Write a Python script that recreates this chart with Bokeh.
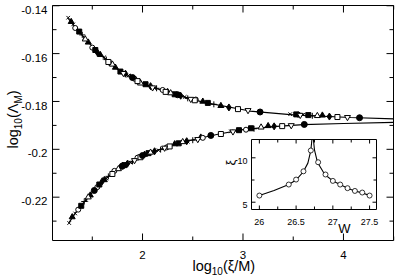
import math
from bokeh.plotting import figure
from bokeh.models import Range1d
from bokeh.core.properties import value
from bokeh.embed import file_html
from bokeh.resources import INLINE

FONT = "Liberation Sans"

# ---------------- main panel data ----------------
X_RANGE = (1.104, 4.498)
Y_RANGE = (-0.2381, -0.1399)
X_TICKS = [2, 3, 4]
X_TICK_LABELS = ["2", "3", "4"]
X_MINOR = [1.5, 2.5, 3.5, 4.5]
Y_TICKS = [-0.22, -0.2, -0.18, -0.16, -0.14]
Y_TICK_LABELS = ["-0.22", "-0.2", "-0.18", "-0.16", "-0.14"]
Y_MINOR = [-0.23, -0.21, -0.19, -0.17, -0.15]

# fitted scaling curves (upper and lower branch)
UPPER_X = [1.26, 1.35, 1.45, 1.58, 1.75, 2.0, 2.25, 2.6, 3.07, 3.5, 4.07, 4.5]
UPPER_Y = [-0.1453, -0.1500, -0.1548, -0.1605, -0.1665, -0.1725, -0.1762, -0.1803, -0.1840, -0.1856, -0.1867, -0.1873]
LOWER_X = [1.27, 1.35, 1.45, 1.58, 1.75, 2.0, 2.25, 2.5, 2.75, 3.0, 3.3, 3.6, 4.0, 4.5]
LOWER_Y = [-0.2305, -0.2255, -0.2205, -0.2140, -0.2085, -0.2028, -0.1988, -0.1960, -0.1937, -0.1918, -0.1905, -0.1897, -0.1892, -0.1887]

# data points, one list per symbol (upper branch points followed by lower branch points)
CROSS_X = [1.26, 1.31, 1.42, 1.62, 1.86, 2.12, 2.42, 3.47, 3.60, 1.27, 1.33, 1.44, 1.64, 1.88, 2.16, 2.45, 2.88]
CROSS_Y = [-0.1450, -0.1478, -0.1533, -0.1615, -0.1692, -0.1745, -0.1781, -0.1853, -0.1855,
           -0.2308, -0.2268, -0.2212, -0.2122, -0.2055, -0.2004, -0.1968, -0.1925]
TRI_X = [1.29, 1.46, 1.58, 1.73, 1.97, 2.25, 2.60, 2.78, 3.79, 1.30, 1.48, 1.62, 1.78, 2.02, 2.32, 2.58, 3.25]
TRI_Y = [-0.1467, -0.1553, -0.1605, -0.1658, -0.1718, -0.1760, -0.1800, -0.1818, -0.1858,
         -0.2283, -0.2192, -0.2128, -0.2075, -0.2022, -0.1978, -0.1950, -0.1902]
OCIRC_X = [1.33, 1.50, 1.68, 1.92, 2.20, 2.53, 3.55, 1.36, 1.55, 1.72, 1.95, 2.24, 2.60, 3.03]
OCIRC_Y = [-0.1493, -0.1575, -0.1640, -0.1705, -0.1752, -0.1792, -0.1855,
           -0.2252, -0.2158, -0.2090, -0.2035, -0.1992, -0.1952, -0.1918]
FSQ_X = [1.37, 1.53, 1.78, 2.03, 2.32, 2.65, 3.53, 3.65, 1.39, 1.57, 1.82, 2.06, 2.36, 2.96, 3.08]
FSQ_Y = [-0.1508, -0.1585, -0.1675, -0.1728, -0.1770, -0.1806, -0.1854, -0.1857,
         -0.2236, -0.2147, -0.2066, -0.2016, -0.1975, -0.1920, -0.1912]
PLUS_X = [1.40, 1.64, 1.88, 2.14, 2.45, 2.71, 3.69, 1.42, 1.66, 1.90, 2.18, 2.50, 3.11]
PLUS_Y = [-0.1522, -0.1625, -0.1697, -0.1745, -0.1787, -0.1812, -0.1860,
          -0.2218, -0.2113, -0.2050, -0.2001, -0.1962, -0.1914]
OTRI_X = [1.43, 1.70, 1.98, 2.28, 3.74, 1.46, 1.76, 2.08, 2.40, 3.18]
OTRI_Y = [-0.1540, -0.1645, -0.1724, -0.1765, -0.1860, -0.2200, -0.2082, -0.2013, -0.1969, -0.1908]
DIAM_X = [1.55, 1.83, 2.08, 2.38, 2.86, 3.86, 1.60, 1.85, 2.12, 2.44, 3.31]
DIAM_Y = [-0.1595, -0.1684, -0.1736, -0.1776, -0.1825, -0.1863, -0.2133, -0.2060, -0.2008, -0.1966, -0.1904]
OSQ_X = [1.66, 1.95, 2.23, 2.52, 2.95, 3.94, 1.70, 1.98, 2.27, 2.78, 3.39]
OSQ_Y = [-0.1635, -0.1715, -0.1760, -0.1795, -0.1832, -0.1865, -0.2103, -0.2033, -0.1988, -0.1936, -0.1903]
OITRI_X = [1.81, 2.10, 2.48, 3.05, 3.57, 4.04, 1.92, 2.22, 2.55, 2.90, 3.48]
OITRI_Y = [-0.1682, -0.1742, -0.1790, -0.1837, -0.1857, -0.1866, -0.2046, -0.1994, -0.1958, -0.1926, -0.1900]
FCIRC_X = [1.90, 2.35, 3.17, 4.16, 1.52, 1.80, 2.00, 2.68, 3.61]
FCIRC_Y = [-0.1700, -0.1772, -0.1844, -0.1868, -0.2172, -0.2070, -0.2026, -0.1942, -0.1896]

# ---------------- inset data ----------------
INSET_W_RANGE = (25.893, 27.594)
INSET_XI_RANGE = (4.18, 12.06)
INSET_W_TICKS = [26, 26.5, 27, 27.5]
INSET_W_TICK_LABELS = ["26", "26.5", "27", "27.5"]
INSET_W_MINOR = [26.25, 26.75, 27.25]
INSET_XI_TICKS = [5, 10]
INSET_XI_TICK_LABELS = ["5", "10"]
INSET_XI_MINOR = [7.5]

INSET_W = [26.0, 26.4, 26.5, 26.6, 26.7, 26.8, 26.9, 27.0, 27.1, 27.2, 27.3, 27.4, 27.5]
INSET_XI = [5.75, 6.99, 7.55, 8.48, 10.82, 9.50, 8.12, 7.40, 6.99, 6.58, 6.27, 6.09, 5.75]
FIT_LEFT_W = [26.0, 26.2, 26.4, 26.5, 26.6, 26.66, 26.7, 26.715]
FIT_LEFT_XI = [5.75, 6.33, 6.99, 7.50, 8.45, 9.40, 10.80, 12.06]
FIT_RIGHT_W = [26.735, 26.75, 26.79, 26.89, 27.0, 27.1, 27.2, 27.3, 27.4, 27.5]
FIT_RIGHT_XI = [12.06, 10.90, 9.50, 8.12, 7.40, 6.99, 6.58, 6.27, 6.05, 5.75]

# ---------------- layout (canvas pixels) ----------------
CW, CH = 395, 275
ML, MR, MT, MB = 52, 393, 5, 240          # main plot box
IL, IR, IT, IB = 251, 376, 139, 209       # inset box

# the whole canvas is the plotting frame; scales chosen so the data box lands on the plot box
kx = (MR - ML) / (X_RANGE[1] - X_RANGE[0])
ky = (MB - MT) / (Y_RANGE[1] - Y_RANGE[0])
x_rng = Range1d(X_RANGE[0] - ML / kx, X_RANGE[1] + (CW - MR) / kx)
y_rng = Range1d(Y_RANGE[0] - (CH - MB) / ky, Y_RANGE[1] + MT / ky)

p = figure(width=CW, height=CH, x_range=x_rng, y_range=y_rng,
           output_backend="svg", toolbar_location=None,
           x_axis_type=None, y_axis_type=None, min_border=0)
p.background_fill_color = "white"
p.border_fill_color = "white"
p.outline_line_color = None
p.grid.visible = False

X0, X1 = X_RANGE
Y0, Y1 = Y_RANGE

def px_x(px):   # canvas pixel -> main x data
    return x_rng.start + px / kx
def px_y(py):   # canvas pixel -> main y data
    return y_rng.end - py / ky

# plot box
p.quad(left=[X0], right=[X1], bottom=[Y0], top=[Y1], fill_color=None,
       line_color="black", line_width=1)

def ticks(xvals, yvals, length, xa, xb, ya, yb, sx, sy):
    a, b, c, d = [], [], [], []
    for t in xvals:
        a += [t, t]; c += [t, t]
        b += [ya, yb]; d += [ya + length / sy, yb - length / sy]
    for t in yvals:
        b += [t, t]; d += [t, t]
        a += [xa, xb]; c += [xa + length / sx, xb - length / sx]
    return a, b, c, d

for xv, yv, ln in [(X_TICKS, Y_TICKS, 7), (X_MINOR, Y_MINOR, 4)]:
    a, b, c, d = ticks(xv, yv, ln, X0, X1, Y0, Y1, kx, ky)
    p.segment(a, b, c, d, line_color="black", line_width=1)

p.text(X_TICKS, [px_y(254)] * len(X_TICKS), text=X_TICK_LABELS, text_font=value(FONT),
       text_font_size="11.5px", text_color="black", text_align="center", text_baseline="alphabetic")
p.text([px_x(47)] * len(Y_TICKS), [t - 4.1 / ky for t in Y_TICKS], text=Y_TICK_LABELS,
       text_font=value(FONT), text_font_size="11.5px", text_color="black",
       text_align="right", text_baseline="alphabetic")

# curves
p.line(UPPER_X, UPPER_Y, line_color="black", line_width=1.2)
p.line(LOWER_X, LOWER_Y, line_color="black", line_width=1.2)

# markers
p.scatter(CROSS_X, CROSS_Y, marker="x", size=5, line_color="black", line_width=1)
p.scatter(TRI_X, TRI_Y, marker="triangle", size=6, line_color="black", fill_color="black")
p.scatter(OCIRC_X, OCIRC_Y, marker="circle", size=5, line_color="black", fill_color="white")
p.scatter(FSQ_X, FSQ_Y, marker="square", size=5, line_color="black", fill_color="black")
p.scatter(PLUS_X, PLUS_Y, marker="cross", size=6, line_color="black", line_width=1)
p.scatter(OTRI_X, OTRI_Y, marker="triangle", size=6, line_color="black", fill_color="white")
p.scatter(DIAM_X, DIAM_Y, marker="diamond", size=7, line_color="black", fill_color="black")
p.scatter(OSQ_X, OSQ_Y, marker="square", size=5, line_color="black", fill_color="white")
p.scatter(OITRI_X, OITRI_Y, marker="inverted_triangle", size=6, line_color="black", fill_color="white")
p.scatter(FCIRC_X, FCIRC_Y, marker="circle", size=6, line_color="black", fill_color="black")

# main axis titles, built from pieces so the subscripts sit lower
XL_PIECES = [("log", "14.5px", 192, 265.5), ("10", "10px", 211.3, 270.0), ("(ξ/M)", "14.5px", 222.4, 265.5)]
for txt, size, px, py in XL_PIECES:
    p.text([px_x(px)], [px_y(py)], text=[txt], text_font=value(FONT), text_font_size=size,
           text_color="black", text_align="left", text_baseline="alphabetic")

YL_PIECES = [("log", "14.5px", 12.5, 148), ("10", "10px", 17.5, 128.7), ("(Λ", "14.5px", 12.5, 117.6),
             ("M", "10px", 17.5, 103.1), (")", "14.5px", 12.5, 94.8)]
for txt, size, px, py in YL_PIECES:
    p.text([px_x(px)], [px_y(py)], text=[txt], text_font=value(FONT), text_font_size=size,
           text_color="black", angle=math.pi / 2, text_align="left", text_baseline="alphabetic")

# ---------------- inset (own scales) ----------------
w0, w1 = INSET_W_RANGE
z0, z1 = INSET_XI_RANGE
kxi = (IR - IL) / (w1 - w0)
kyi = (IB - IT) / (z1 - z0)
p.extra_x_ranges = {"inw": Range1d(w0 - IL / kxi, w1 + (CW - IR) / kxi)}
p.extra_y_ranges = {"inxi": Range1d(z0 - (CH - IB) / kyi, z1 + IT / kyi)}
R = dict(x_range_name="inw", y_range_name="inxi")

def in_x(px):
    return w0 + (px - IL) / kxi
def in_y(py):
    return z1 - (py - IT) / kyi

p.quad(left=[w0], right=[w1], bottom=[z0], top=[z1], fill_color="white",
       line_color="black", line_width=1, **R)
for xv, yv, ln in [(INSET_W_TICKS, INSET_XI_TICKS, 4), (INSET_W_MINOR, INSET_XI_MINOR, 3)]:
    a, b, c, d = ticks(xv, yv, ln, w0, w1, z0, z1, kxi, kyi)
    p.segment(a, b, c, d, line_color="black", line_width=1, **R)

p.text(INSET_W_TICKS, [in_y(221)] * len(INSET_W_TICKS), text=INSET_W_TICK_LABELS,
       text_font=value(FONT), text_font_size="9px", text_color="black",
       text_align="center", text_baseline="alphabetic", **R)
p.text([in_x(247)] * len(INSET_XI_TICKS), [t - 3.2 / kyi for t in INSET_XI_TICKS],
       text=INSET_XI_TICK_LABELS, text_font=value(FONT), text_font_size="9px",
       text_color="black", text_align="right", text_baseline="alphabetic", **R)

p.line(FIT_LEFT_W, FIT_LEFT_XI, line_color="black", line_width=1.1, **R)
p.line(FIT_RIGHT_W, FIT_RIGHT_XI, line_color="black", line_width=1.1, **R)
p.scatter(INSET_W, INSET_XI, marker="circle", size=5, line_color="black",
          fill_color="white", line_width=0.8, **R)

p.text([in_x(344)], [in_y(228)], text=["W"], text_font=value(FONT), text_font_size="13px",
       text_color="black", text_align="center", text_baseline="alphabetic", **R)
p.text([in_x(230)], [in_y(162)], text=["ξ"], text_font=value(FONT), text_font_size="13px",
       text_color="black", angle=math.pi / 2, text_align="center", text_baseline="middle", **R)

open("out.html", "w").write(file_html(p, INLINE))
